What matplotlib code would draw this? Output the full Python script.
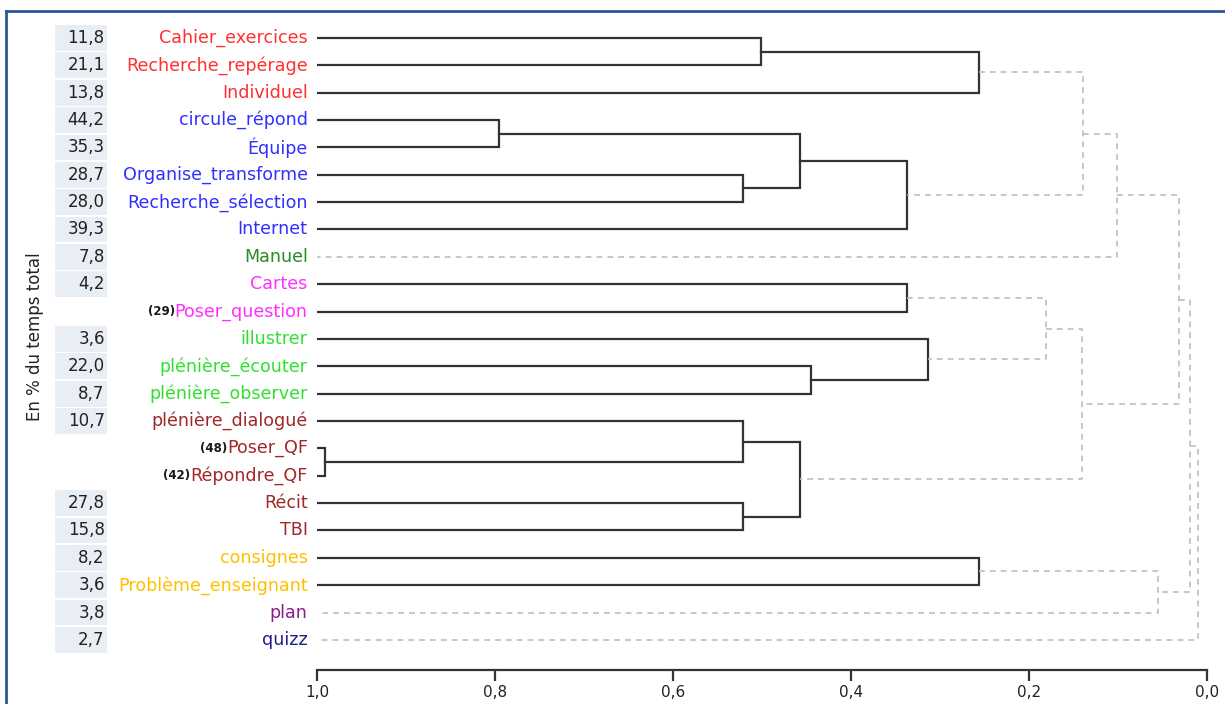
import matplotlib
matplotlib.use("Agg")
import matplotlib.pyplot as plt
from matplotlib.patches import Rectangle
from matplotlib.lines import Line2D

# leaves, top to bottom
labels = ["Cahier_exercices", "Recherche_repérage", "Individuel", "circule_répond",
          "Équipe", "Organise_transforme", "Recherche_sélection", "Internet", "Manuel",
          "Cartes", "Poser_question", "illustrer", "plénière_écouter", "plénière_observer",
          "plénière_dialogué", "Poser_QF", "Répondre_QF", "Récit", "TBI", "consignes",
          "Problème_enseignant", "plan", "quizz"]
prefixes = {10: "(29)", 15: "(48)", 16: "(42)"}
pct_time = ["11,8", "21,1", "13,8", "44,2", "35,3", "28,7", "28,0", "39,3", "7,8",
            "4,2", None, "3,6", "22,0", "8,7", "10,7", None, None, "27,8", "15,8",
            "8,2", "3,6", "3,8", "2,7"]
label_colors = ["#ff3030"] * 3 + ["#3030ff"] * 5 + ["#2a8a2a"] + ["#ff30ff"] * 2 + \
               ["#30e030"] * 3 + ["#a02828"] * 5 + ["#ffc000"] * 2 + ["#8e1c8e", "#20208c"]

# merges: (child a, child b, similarity). ids 0..22 = leaves, 23.. = merges in order
merges = [
    (0, 1, 0.501), (23, 2, 0.256),
    (3, 4, 0.795), (5, 6, 0.521), (25, 26, 0.457), (27, 7, 0.337),
    (24, 28, 0.139), (29, 8, 0.101),
    (9, 10, 0.337), (12, 13, 0.445), (11, 32, 0.313), (31, 33, 0.181),
    (15, 16, 0.991), (14, 35, 0.521), (17, 18, 0.521), (36, 37, 0.457),
    (34, 38, 0.140), (30, 39, 0.031),
    (19, 20, 0.256), (41, 21, 0.055), (40, 42, 0.019), (43, 22, 0.010),
]
cut = 0.2

W, H = 1225, 704
fig = plt.figure(figsize=(W / 100, H / 100), dpi=100)
n = len(labels)
top_pad, bot_pad = 0.7, 1.1
ax = fig.add_axes([317 / W, (H - 670) / H, 890 / W, (670 - 18.8) / H])
ax.set_xlim(1.0, 0.0)
ax.set_ylim(n - 1 + bot_pad, -top_pad)

# node positions
ypos = list(range(n))
hgt = [1.0] * n
for a, b, h in merges:
    solid = h > cut
    kw = dict(color="#333333", lw=1.6, ls="-") if solid else \
        dict(color="#bdbdbd", lw=1.2, ls=(0, (3.5, 3)))
    ax.plot([hgt[a], h, h, hgt[b]], [ypos[a], ypos[a], ypos[b], ypos[b]],
            solid_joinstyle="miter", **kw)
    ypos.append((ypos[a] + ypos[b]) / 2)
    hgt.append(h)

# leaf labels, percentages
ytr = ax.get_yaxis_transform()
for i, lab in enumerate(labels):
    t = ax.text(-0.0105, i, lab, transform=ytr, ha="right", va="center",
                fontsize=12.6, color=label_colors[i], family="DejaVu Sans")
    if i in prefixes:
        ax.annotate(prefixes[i], xy=(0, 0.5), xycoords=t, ha="right", va="center",
                    fontsize=8.5, color="#1a1a1a", fontweight="bold")
    if pct_time[i] is not None:
        ax.add_patch(Rectangle((-0.2944, i - 0.47), 0.0584, 0.94, transform=ytr,
                               facecolor="#e9edf4", edgecolor="none", clip_on=False))
        ax.text(-0.2385, i, pct_time[i], transform=ytr, ha="right", va="center",
                fontsize=12, color="#222222")

fig.text(35 / W, 1 - 337 / H, "En % du temps total", rotation=90, ha="center",
         va="center", fontsize=12, color="#222222")

# axis
for s in ["left", "top", "right"]:
    ax.spines[s].set_visible(False)
ax.spines["bottom"].set_color("#333333")
ax.spines["bottom"].set_linewidth(1.6)
ticks = [1.0, 0.8, 0.6, 0.4, 0.2, 0.0]
ax.set_xticks(ticks)
ax.set_xticklabels([f"{v:.1f}".replace(".", ",") for v in ticks])
ax.tick_params(axis="x", direction="out", length=8, width=1.6, color="#333333",
               labelsize=11, labelcolor="#222222", pad=3)
ax.set_yticks([])

# blue frame (top and left only visible)
fig.add_artist(Line2D([6 / W, 6 / W], [0, 1 - 11 / H], color="#2f5597", lw=2))
fig.add_artist(Line2D([6 / W, 1], [1 - 11 / H, 1 - 11 / H], color="#2f5597", lw=2))

fig.savefig("out.png", dpi=100)
